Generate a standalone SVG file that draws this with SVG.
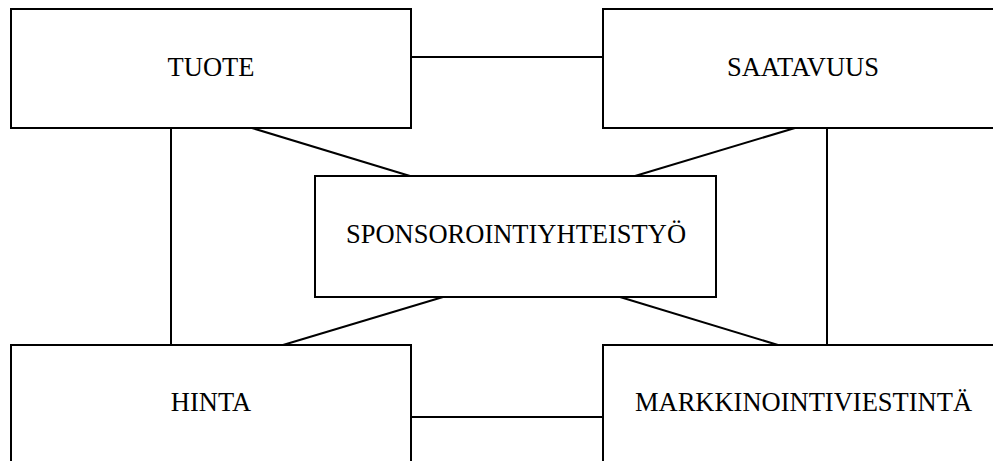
<svg xmlns="http://www.w3.org/2000/svg" width="993" height="461" viewBox="0 0 993 461">
<style>
.box{fill:#fff;stroke:#000;stroke-width:2}
.lbl{font-family:'Liberation Serif','Times New Roman','DejaVu Serif',serif;font-size:26.5px;fill:#000;text-anchor:middle}
.con line{stroke:#000;stroke-width:2}
</style>
<rect width="993" height="461" fill="#fff"/>
<g id="connectors" class="con">
<line x1="411" y1="57" x2="603" y2="57"/>
<line x1="411" y1="417" x2="603" y2="417"/>
<line x1="171" y1="128" x2="171" y2="345"/>
<line x1="827" y1="128" x2="827" y2="345"/>
<line x1="252" y1="128" x2="410" y2="176"/>
<line x1="795" y1="128" x2="635" y2="176"/>
<line x1="283" y1="345" x2="443" y2="297"/>
<line x1="778" y1="345" x2="620" y2="297"/>
</g>
<g id="tuote"><rect class="box" x="11" y="9" width="400" height="119"/><text class="lbl" font-family="Liberation Serif, serif" x="211" y="76">TUOTE</text></g>
<g id="saatavuus"><rect class="box" x="603" y="9" width="400" height="119"/><text class="lbl" font-family="Liberation Serif, serif" x="803" y="76">SAATAVUUS</text></g>
<g id="sponsorointi"><rect class="box" x="315" y="176" width="401" height="121"/><text class="lbl" font-family="Liberation Serif, serif" x="516" y="243">SPONSOROINTIYHTEISTYÖ</text></g>
<g id="hinta"><rect class="box" x="11" y="345" width="400" height="130"/><text class="lbl" font-family="Liberation Serif, serif" x="211" y="411">HINTA</text></g>
<g id="markkinointiviestinta"><rect class="box" x="603" y="345" width="400" height="130"/><text class="lbl" font-family="Liberation Serif, serif" x="803.5" y="411">MARKKINOINTIVIESTINTÄ</text></g>
</svg>
